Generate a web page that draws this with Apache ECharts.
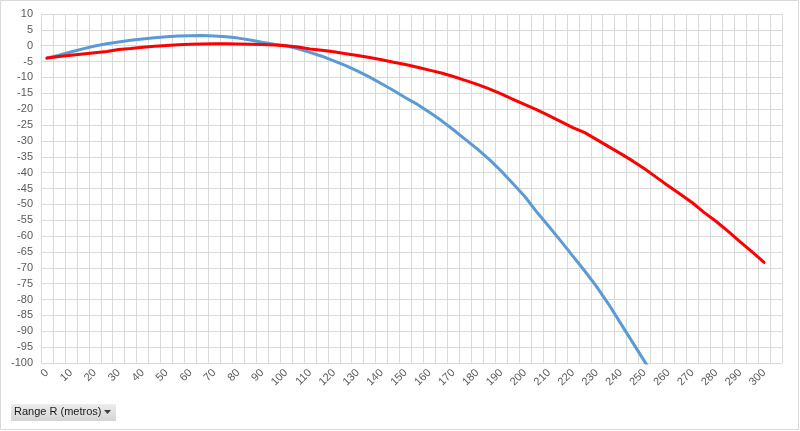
<!DOCTYPE html>
<html>
<head>
<meta charset="utf-8">
<script src="https://cdn.jsdelivr.net/npm/echarts@6/dist/echarts.min.js"></script>
<style>
html,body{margin:0;padding:0;background:#fff;}
#chart{width:800px;height:431px;}
</style>
</head>
<body>
<div id="chart"></div>
<script>
// Range categories (metros), every 5 m
var categories = ['0','5','10','15','20','25','30','35','40','45','50','55','60','65','70','75','80','85','90','95','100',
  '105','110','115','120','125','130','135','140','145','150','155','160','165','170','175','180','185','190','195','200',
  '205','210','215','220','225','230','235','240','245','250','255','260','265','270','275','280','285','290','295','300','305'];

// Blue series
var blueSeries = [-3.9,-3.0,-2.0,-1.0,-0.1,0.6,1.2,1.7,2.1,2.5,2.8,3.05,3.15,3.2,3.1,2.85,2.4,1.8,1.1,0.5,0.0,
  -1.0,-2.1,-3.3,-4.8,-6.3,-8.0,-9.9,-12.0,-14.1,-16.4,-18.5,-21.0,-23.6,-26.5,-29.5,-32.5,-35.8,-39.5,-43.5,-47.6,
  -52.5,-57.0,-61.6,-66.3,-71.0,-76.0,-81.5,-87.5,-93.5,-99.5,-105.5];

// Red series
var redSeries = [-3.9,-3.4,-3.0,-2.6,-2.2,-1.85,-1.2,-0.9,-0.5,-0.2,0.1,0.3,0.45,0.55,0.6,0.6,0.55,0.5,0.35,0.2,0.0,
  -0.4,-1.0,-1.4,-1.9,-2.5,-3.1,-3.7,-4.4,-5.2,-5.9,-6.8,-7.7,-8.6,-9.7,-10.9,-12.2,-13.6,-15.2,-16.9,-18.6,
  -20.2,-22.0,-23.9,-25.8,-27.4,-29.6,-31.8,-34.0,-36.3,-38.8,-41.5,-44.2,-46.8,-49.5,-52.6,-55.4,-58.5,-61.8,-65.0,-68.3];

var yMin = -100, yMax = 10, yStep = 5;
var fieldButtonLabel = 'Range R (metros)';

var chart = echarts.init(document.getElementById('chart'), null, {renderer:'canvas'});
var font = '"Liberation Sans", Arial, sans-serif';
chart.setOption({
  animation: false,
  backgroundColor: '#ffffff',
  grid: {left: 41, top: 14, right: 18, bottom: 68, containLabel: false},
  xAxis: {
    type: 'category',
    data: categories,
    boundaryGap: true,
    axisLine: {show: true, lineStyle: {color: '#d9d9d9', width: 1}},
    axisTick: {show: false},
    splitLine: {show: true, interval: 0, lineStyle: {color: '#d9d9d9', width: 1}},
    axisLabel: {interval: 1, rotate: 45, margin: 8, color: '#595959', fontSize: 11, fontFamily: font}
  },
  yAxis: {
    type: 'value',
    min: yMin, max: yMax, interval: yStep,
    axisLine: {show: false},
    axisTick: {show: false},
    splitLine: {show: true, lineStyle: {color: '#d9d9d9', width: 1}},
    axisLabel: {margin: 8, color: '#595959', fontSize: 11, fontFamily: font}
  },
  series: [
    {type: 'line', data: blueSeries, symbol: 'none', clip: true,
     lineStyle: {color: '#5B9BD5', width: 3, cap: 'round', join: 'round'}},
    {type: 'line', data: redSeries, symbol: 'none', clip: true,
     lineStyle: {color: '#FF0000', width: 3, cap: 'round', join: 'round'}}
  ],
  graphic: [
    {type: 'rect', shape: {x: 0.5, y: 0.5, width: 798, height: 429}, style: {fill: null, stroke: '#d9d9d9', lineWidth: 1}, silent: true},
    {type: 'rect', shape: {x: 11, y: 404, width: 105, height: 17},
     style: {fill: new echarts.graphic.LinearGradient(0,0,0,1,[{offset:0,color:'#ececec'},{offset:1,color:'#d4d4d4'}]), stroke: null}},
    {type: 'text', left: 14, top: 406, style: {text: fieldButtonLabel, fill: '#1a1a1a', font: '11px "Liberation Sans", Arial, sans-serif'}},
    {type: 'polygon', shape: {points: [[104,410],[111,410],[107.5,414]]}, style: {fill: '#404040'}}
  ]
});
</script>
</body>
</html>
